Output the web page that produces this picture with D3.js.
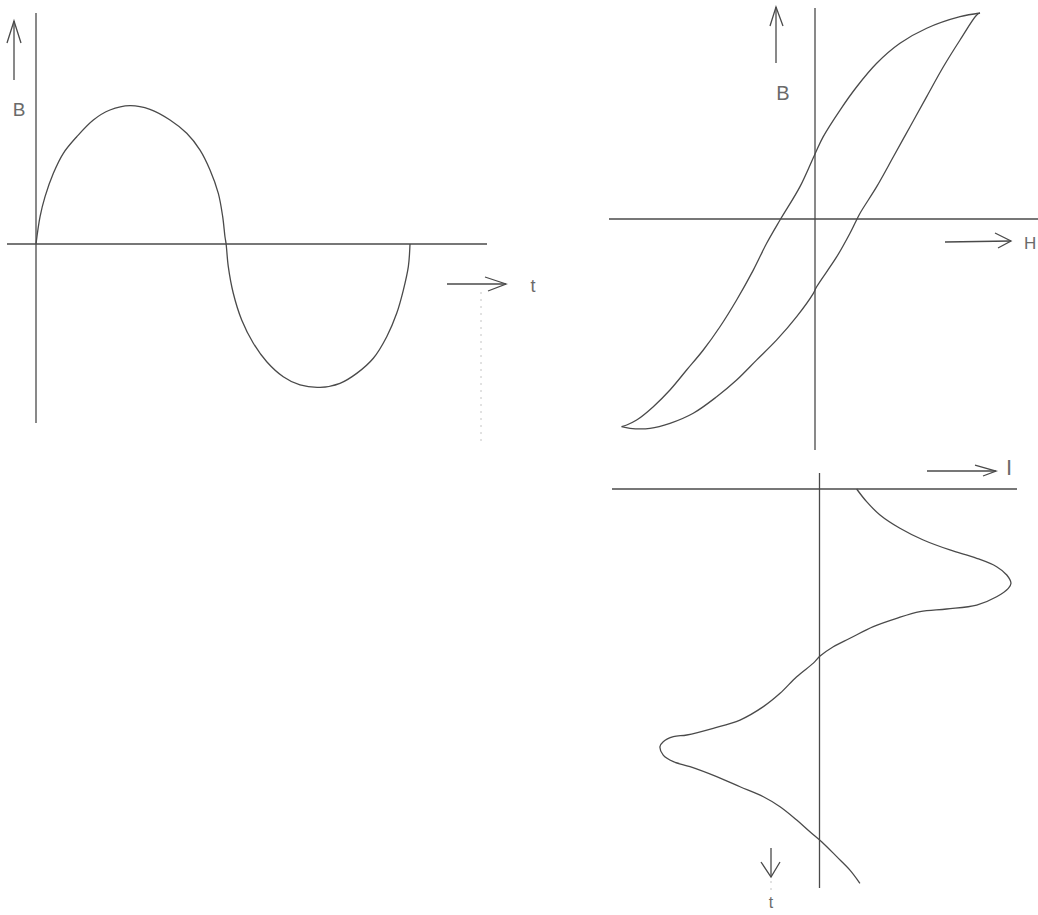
<!DOCTYPE html>
<html>
<head>
<meta charset="utf-8">
<script src="https://cdn.jsdelivr.net/npm/d3@7"></script>
<style>
  html, body { margin: 0; padding: 0; background: #fff; }
  svg { display: block; }
  text { font-family: "Liberation Sans", "DejaVu Sans", sans-serif; fill: #6a6a6a; }
</style>
</head>
<body>
<svg id="chart" width="1038" height="915"></svg>
<script>
// ---------- DATA ----------
// Panel 1: B versus t (t in degrees)
const sineT = [0, 3.9, 8.7, 16.7, 26.3, 39.2, 55.2, 71.2, 90.5, 109.7, 129.0, 145.1, 157.9, 167.5, 175.5, 179.7, 181.9, 183.0,
               185.1, 189.9, 198.0, 209.2, 222.1, 238.0, 254.1, 273.4, 292.6, 308.7, 324.7, 337.6, 347.2, 353.6, 358.4, 360];
const sineB = [0, 0.195, 0.338, 0.505, 0.648, 0.766, 0.886, 0.957, 0.988, 0.962, 0.886, 0.791, 0.671, 0.529, 0.362, 0.195, 0.052, 0,
               -0.162, -0.352, -0.543, -0.709, -0.841, -0.948, -1.007, -1.024, -0.995, -0.924, -0.816, -0.662, -0.495, -0.329, -0.162, 0];

// Panel 2: hysteresis loop B versus H
// descending (upper) branch, from the top tip to the bottom tip
const loopDownH = [1.0, 0.879, 0.677, 0.515, 0.374, 0.253, 0.152, 0.050, 0, -0.091, -0.212, -0.293, -0.374, -0.475, -0.576, -0.677, -0.778, -0.879, -0.980, -1.081, -1.141, -1.172];
const loopDownB = [1.0, 0.982, 0.926, 0.853, 0.756, 0.642, 0.529, 0.400, 0.316, 0.157, -0.005, -0.118, -0.248, -0.393, -0.523, -0.636, -0.733, -0.830, -0.911, -0.976, -1.0, -1.008];
// ascending (lower) branch, from the bottom tip to the top tip
const loopUpH = [-1.172, -1.121, -1.0, -0.879, -0.738, -0.596, -0.475, -0.353, -0.232, -0.111, -0.010, 0.010, 0.132, 0.212, 0.242, 0.273, 0.374, 0.475, 0.576, 0.677, 0.778, 0.879, 0.980, 1.0];
const loopUpB = [-1.008, -1.016, -1.016, -0.992, -0.943, -0.863, -0.782, -0.684, -0.587, -0.474, -0.361, -0.329, -0.183, -0.069, -0.021, 0.028, 0.157, 0.302, 0.448, 0.594, 0.739, 0.869, 0.990, 1.0];

// Panel 3: I versus t (t downward, degrees)
const currT = [0, 12.2, 25.0, 37.8, 49.1, 58.7, 66.7, 74.8, 82.8, 90.8, 95.6, 103.7, 111.7, 115.5, 118.1, 124.5, 132.5, 143.7, 151.8, 160.8,
               167.6, 180.7, 196.7, 209.5, 222.4, 230.4, 236.8, 238.4, 243.2, 248.0, 256.1, 262.5, 267.3, 276.9, 286.6, 296.2, 305.8, 318.6,
               329.9, 339.5, 353.9, 366.8, 379.5];
const currI = [0.194, 0.246, 0.316, 0.420, 0.542, 0.681, 0.821, 0.925, 0.978, 1.0, 0.986, 0.925, 0.821, 0.664, 0.525, 0.403, 0.281, 0.159, 0.072, 0.003,
               -0.032, -0.119, -0.206, -0.293, -0.415, -0.555, -0.693, -0.763, -0.816, -0.833, -0.816, -0.763, -0.676, -0.537, -0.415, -0.293, -0.206, -0.119,
               -0.050, 0.011, 0.090, 0.159, 0.211];

// Axis labels
const labelsSine = ["B", "t"];
const labelsLoop = ["B", "H"];
const labelsCurr = ["I", "t"];

// ---------- DRAWING ----------
const svg = d3.select("#chart");
svg.append("rect").attr("width", 1038).attr("height", 915).attr("fill", "#fff");

const ink = "#4a4a4a";
const lw = 1.3;

function hline(g, x1, x2, y) {
  g.append("line").attr("x1", x1).attr("x2", x2).attr("y1", y).attr("y2", y)
    .attr("stroke", ink).attr("stroke-width", lw);
}
function vline(g, x, y1, y2) {
  g.append("line").attr("x1", x).attr("x2", x).attr("y1", y1).attr("y2", y2)
    .attr("stroke", ink).attr("stroke-width", lw);
}
function faint(g, x, y1, y2) {
  g.append("line").attr("x1", x).attr("x2", x).attr("y1", y1).attr("y2", y2)
    .attr("stroke", "#c4c4c4").attr("stroke-width", 1).attr("stroke-dasharray", "2,5");
}
function arrow(g, pts, head) {
  g.append("path").attr("d", d3.line()(pts)).attr("fill", "none")
    .attr("stroke", ink).attr("stroke-width", lw);
  g.append("path").attr("d", d3.line()(head)).attr("fill", "none")
    .attr("stroke", ink).attr("stroke-width", lw).attr("stroke-linejoin", "miter");
}
function curve(g, xs, ys, sx, sy) {
  const pts = xs.map((v, i) => [sx(v), sy(ys[i])]);
  g.append("path").attr("d", d3.line().curve(d3.curveCatmullRom.alpha(0.5))(pts))
    .attr("fill", "none").attr("stroke", ink).attr("stroke-width", lw);
}

// Panel 1
const g1 = svg.append("g");
const xL = d3.scaleLinear().domain([0, 360]).range([36, 410]);
const yL = d3.scaleLinear().domain([-1, 1]).range([384, 104]);
vline(g1, xL(0), 13, 423);
hline(g1, 7, 487, yL(0));
faint(g1, 481, 292, 446);
curve(g1, sineT, sineB, xL, yL);
arrow(g1, [[14, 80], [14, 21]], [[7, 43], [14, 21], [21, 43]]);
arrow(g1, [[447, 284], [506, 284]], [[485, 277], [506, 284], [488, 291]]);
g1.append("text").attr("x", 19).attr("y", 116).attr("text-anchor", "middle")
  .attr("font-size", 19).text(labelsSine[0]);
g1.append("text").attr("x", 533).attr("y", 292).attr("text-anchor", "middle")
  .attr("font-size", 18).text(labelsSine[1]);

// Panel 2
const g2 = svg.append("g");
const xH = d3.scaleLinear().domain([-1, 1]).range([650, 980]);
const yB = d3.scaleLinear().domain([-1, 1]).range([425, 13]);
vline(g2, xH(0), 8, 450);
hline(g2, 609, 1038, yB(0));
curve(g2, loopDownH, loopDownB, xH, yB);
curve(g2, loopUpH, loopUpB, xH, yB);
arrow(g2, [[776, 63], [776, 7]], [[770, 26], [776, 7], [783, 26]]);
arrow(g2, [[945, 242], [1011, 241]], [[995, 233], [1011, 241], [998, 248]]);
g2.append("text").attr("x", 783).attr("y", 100).attr("text-anchor", "middle")
  .attr("font-size", 20).text(labelsLoop[0]);
g2.append("text").attr("x", 1024).attr("y", 249).attr("text-anchor", "start")
  .attr("font-size", 17).text(labelsLoop[1]);

// Panel 3
const g3 = svg.append("g");
const xI = d3.scaleLinear().domain([-1, 1]).range([628, 1011]);
const yT = d3.scaleLinear().domain([0, 360]).range([489, 863]);
hline(g3, 612, 1017, yT(0));
vline(g3, xI(0), 473, 888);
faint(g3, 771, 881, 893);
curve(g3, currI, currT, xI, yT);
arrow(g3, [[927, 471], [996, 471]], [[975, 465], [996, 471], [983, 476]]);
arrow(g3, [[771, 848], [771, 877]], [[761, 862], [771, 877], [780, 862]]);
g3.append("text").attr("x", 1009).attr("y", 475).attr("text-anchor", "middle")
  .attr("font-size", 22).text(labelsCurr[0]);
g3.append("text").attr("x", 771).attr("y", 908).attr("text-anchor", "middle")
  .attr("font-size", 16).text(labelsCurr[1]);
</script>
</body>
</html>
